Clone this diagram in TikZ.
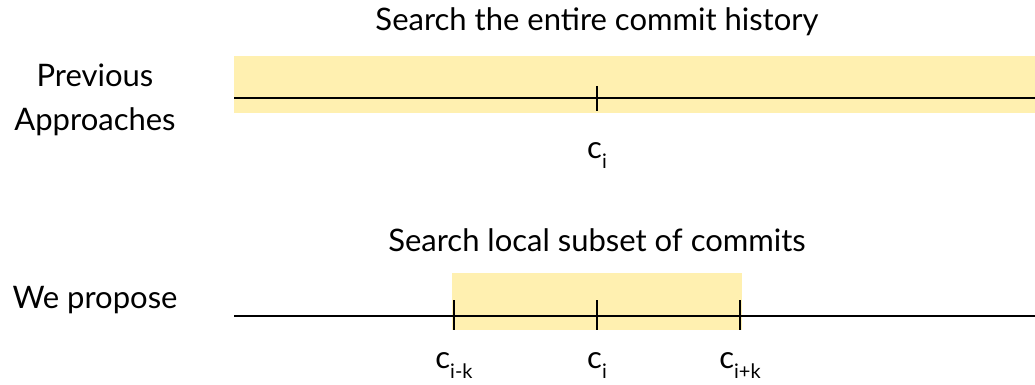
\documentclass[tikz,border=0pt]{standalone}
\usepackage{fontspec}
\setmainfont{Lato}
\usetikzlibrary{positioning}
\definecolor{searchfill}{HTML}{FFF0B0}
\newcommand{\csub}[1]{c\raisebox{-0.7ex}{\fontsize{20}{20}\selectfont #1}}
\begin{document}
\begin{tikzpicture}[x=1pt, y=-1pt,
        txt/.style={font=\fontsize{31}{44}\selectfont, align=center, inner sep=0pt},
        timeline/.style={line width=2.8pt},
        commit/.style={line width=2.8pt}]
        % parameters (pixel frame, y grows downwards)
        \def\xs{234}   % start of the timelines
        \def\xe{1035}  % end of the timelines
        \def\xc{597}   % commit c_i
        \def\dk{143}   % distance c_i -> c_{i+-k}
        \useasboundingbox (0,0) rectangle (1035,385);

        % previous approaches: search everything
        \fill[searchfill] (\xs,56) rectangle (\xe,113);
        \coordinate (pa-s) at (\xs,98);
        \coordinate (pa-e) at (\xe,98);
        \draw[timeline] (pa-s) -- (pa-e);
        \coordinate (pa-ci) at (\xc,98);
        \draw[commit] (pa-ci) ++(0,-12) -- ++(0,25);
        \node[txt] (pa-title) at (\xc,22) {Search the entire commit history};
        \node[txt] (pa-name) at (95,100) {Previous\\Approaches};
        \node[txt, anchor=base] (pa-lci) at (\xc,158) {\csub{i}};

        % proposed: local window around c_i
        \pgfmathsetmacro{\xl}{\xc-\dk}
        \pgfmathsetmacro{\xr}{\xc+\dk}
        \fill[searchfill] (\xl-2,273) rectangle (\xr+2,330);
        \coordinate (wp-s) at (\xs,316);
        \coordinate (wp-e) at (\xe,316);
        \draw[timeline] (wp-s) -- (wp-e);
        \foreach \x/\n in {\xl/l, \xc/c, \xr/r}{
            \coordinate (wp-\n) at (\x,316);
            \draw[commit] (wp-\n) ++(0,-16) -- ++(0,30);
        }
        \node[txt] (wp-title) at (\xc,240) {Search local subset of commits};
        \node[txt] (wp-name) at (95,300) {We propose};
        \node[txt, anchor=base] (wp-ll) at (\xl,368) {\csub{i-k}};
        \node[txt, anchor=base] (wp-lc) at (\xc,368) {\csub{i}};
        \node[txt, anchor=base] (wp-lr) at (\xr,368) {\csub{i+k}};
\end{tikzpicture}
\end{document}
